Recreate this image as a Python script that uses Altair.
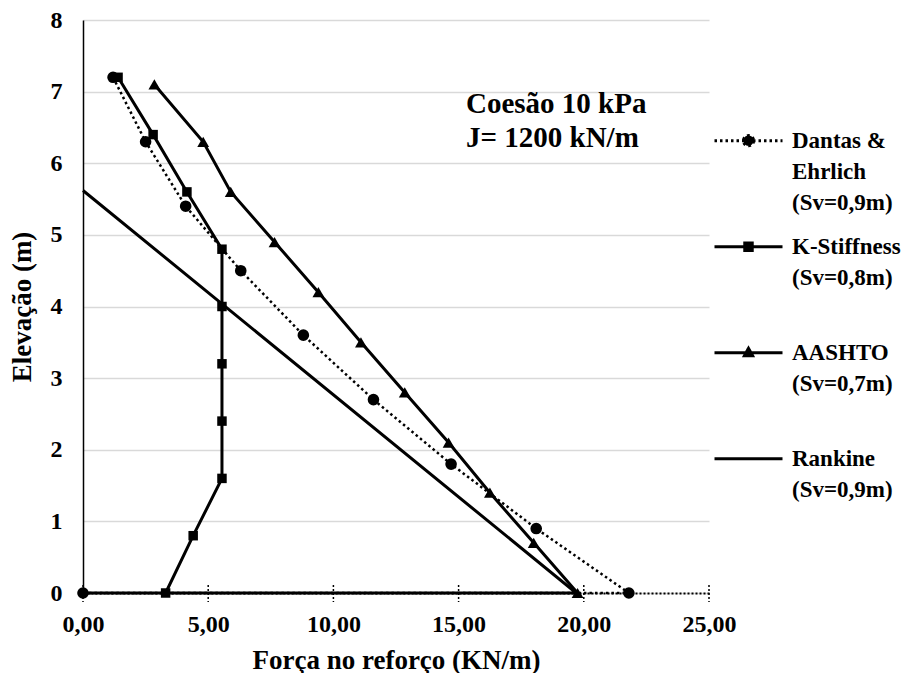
import altair as alt
import pandas as pd

FONT = "Liberation Serif"

series_names = [
    "Dantas &|Ehrlich|(Sv=0,9m)",
    "K-Stiffness|(Sv=0,8m)",
    "AASHTO|(Sv=0,7m)",
    "Rankine|(Sv=0,9m)",
]

dantas_x = [1.2, 2.5, 4.1, 6.3, 8.8, 11.6, 14.7, 18.1, 21.8, 0.0]
dantas_y = [7.2, 6.3, 5.4, 4.5, 3.6, 2.7, 1.8, 0.9, 0.0, 0.0]
kstiff_x = [1.4, 2.8, 4.15, 5.55, 5.55, 5.55, 5.55, 5.55, 4.4, 3.3]
kstiff_y = [7.2, 6.4, 5.6, 4.8, 4.0, 3.2, 2.4, 1.6, 0.8, 0.0]
aashto_x = [2.85, 4.8, 5.9, 7.65, 9.4, 11.1, 12.85, 14.6, 16.25, 18.0, 19.75]
aashto_y = [7.1, 6.3, 5.6, 4.9, 4.2, 3.5, 2.8, 2.1, 1.4, 0.7, 0.0]
rankine_x = [0.0, 19.7, 0.0]
rankine_y = [5.62, 0.0, 0.0]

x_ticks = [0, 5, 10, 15, 20, 25]
annotation_lines = ["Coesão 10 kPa", "J= 1200 kN/m"]

rows = []
for name, xs, ys in zip(series_names,
                        [dantas_x, kstiff_x, aashto_x, rankine_x],
                        [dantas_y, kstiff_y, aashto_y, rankine_y]):
    for i, (xv, yv) in enumerate(zip(xs, ys)):
        rows.append({"series": name, "x": xv, "y": yv, "i": i})
df = pd.DataFrame(rows)
ticks_df = pd.DataFrame({"t": x_ticks})
ann_df = pd.DataFrame({"a": [0]})

# legend symbols: line segment with marker (custom paths in [-1, 1] units)
legend_paths = [
    "M-1,-0.2H1M0.15,-0.2A0.15,0.15,0,1,1,-0.15,-0.2A0.15,0.15,0,1,1,0.15,-0.2Z",
    "M-1,-0.2H1M-0.11,-0.31H0.11V-0.09H-0.11Z",
    "M-1,-0.2H1M0,-0.33L0.12,-0.11L-0.12,-0.11Z",
    "M-1,-0.2H1",
]
legend_dash = [[2.5, 3], [1, 0], [1, 0], [1, 0]]

X = alt.X("x:Q", scale=alt.Scale(domain=[0, 25], nice=False),
          axis=alt.Axis(values=x_ticks, title="Força no reforço (KN/m)",
                        labelExpr="replace(format(datum.value, '.2f'), '.', ',')",
                        grid=False, ticks=False, labelPadding=19, labelFlush=False,
                        domainColor="black", domainWidth=2, domainDash=[2, 2],
                        titlePadding=11))
Y = alt.Y("y:Q", scale=alt.Scale(domain=[0, 8], nice=False),
          axis=alt.Axis(values=list(range(0, 9)), title="Elevação (m)",
                        grid=True, gridColor="#d9d9d9", gridWidth=1.5,
                        ticks=False, labelPadding=21, domainColor="black",
                        domainWidth=1.5, titlePadding=14))

base = alt.Chart(df)
dantas_name = series_names[0]

lines_solid = base.transform_filter(alt.datum.series != dantas_name).mark_line(
    color="black", strokeWidth=3).encode(x=X, y=Y, detail="series:N", order="i:Q")
lines_dotted = base.transform_filter(alt.datum.series == dantas_name).mark_line(
    color="black", strokeWidth=2.5, strokeDash=[2.5, 3]).encode(x=X, y=Y, order="i:Q")

marker_layers = []
for name, shp, sz in zip(series_names[:3], ["circle", "square", "triangle-up"], [135, 90, 140]):
    marker_layers.append(
        base.transform_filter(alt.datum.series == name).mark_point(
            shape=shp, filled=True, color="black", opacity=1, size=sz).encode(x=X, y=Y))

LEG = alt.Legend(
    title=None, orient="none", legendX=630, legendY=92,
    symbolSize=4624, symbolStrokeWidth=3,
    symbolFillColor="black", symbolOpacity=1, symbolOffset=0,
    labelExpr="split(datum.label, '|')", labelFont=FONT, labelFontSize=23,
    labelFontWeight="bold", labelColor="black", labelBaseline="alphabetic",
    labelOffset=8, labelLimit=400, gridAlign="all", rowPadding=3, padding=0,
)
legend_layer = base.mark_point(filled=False, color="black", fill="black", stroke="black",
                               strokeWidth=3, opacity=0, size=1).encode(
    x=X, y=Y,
    shape=alt.Shape("series:N", scale=alt.Scale(domain=series_names, range=legend_paths), legend=LEG),
    strokeDash=alt.StrokeDash("series:N", scale=alt.Scale(domain=series_names, range=legend_dash), legend=LEG),
)

tick_rules = alt.Chart(ticks_df).mark_rule(color="black", strokeWidth=1.5, strokeDash=[2, 2]).encode(
    x=alt.X("t:Q", scale=alt.Scale(domain=[0, 25], nice=False)), y=alt.value(565), y2=alt.value(582))

annotation = alt.Chart(ann_df).mark_text(
    text=annotation_lines, align="left", baseline="top", font=FONT, fontSize=29,
    fontWeight="bold", color="black", lineHeight=34).encode(x=alt.value(383), y=alt.value(70))

chart = alt.layer(lines_solid, lines_dotted, *marker_layers, tick_rules, legend_layer, annotation).properties(
    width=626, height=573, background="white",
    padding={"left": 0, "top": 0, "right": 0, "bottom": 0}
).configure(
    style={"guide-label": {"lineHeight": 31}}
).configure_view(stroke=None).configure_axis(
    labelFont=FONT, labelFontSize=24, labelFontWeight="bold", labelColor="black",
    titleFont=FONT, titleFontSize=27, titleFontWeight="bold", titleColor="black",
)

chart.save("out.html", embed_options={"renderer": "svg", "actions": False})
